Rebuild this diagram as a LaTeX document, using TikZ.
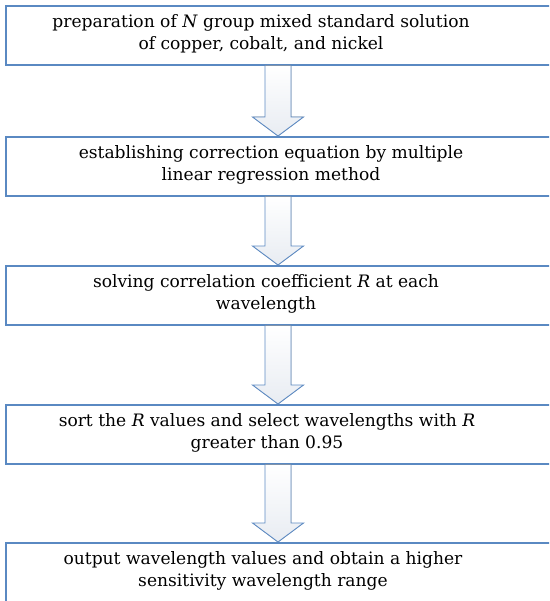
\documentclass[tikz,border=0pt]{standalone}
\usepackage{fontspec}
\setmainfont{DejaVu Serif}
\usetikzlibrary{shadings}
\definecolor{boxblue}{HTML}{5A89C2}
\definecolor{arrowblue}{HTML}{5F8CC4}
\definecolor{arrowfill}{HTML}{E8ECF2}
\tikzset{
  stepbox/.style={draw=boxblue, line width=1.6pt, fill=white, minimum width=560pt, minimum height=59pt, anchor=north west, inner sep=0pt},
  steptext/.style={align=center, font=\fontsize{17.1}{22}\selectfont, inner sep=0pt},
  flowarrow/.style={draw=arrowblue, line width=0.9pt, top color=white, bottom color=arrowfill, line join=miter}
}
\begin{document}
\begin{tikzpicture}[x=1pt,y=1pt]
\useasboundingbox (0,0) rectangle (549,-601);
\clip (0,0) rectangle (549,-601);
\fill[white] (0,0) rectangle (549,-601);
% boxes
\node[stepbox] (b1) at (5,-5) {};
\node[stepbox] (b2) at (5,-136) {};
\node[stepbox] (b3) at (5,-265) {};
\node[stepbox] (b4) at (5,-404) {};
\node[stepbox] (b5) at (5,-542) {};
% texts
\node[steptext] (t1) at (261,-34) {preparation of \textit{N} group mixed standard solution\\of copper, cobalt, and nickel};
\node[steptext] (t2) at (271,-165) {establishing correction equation by multiple\\linear regression method};
\node[steptext] (t3) at (266,-294) {solving correlation coefficient \textit{R} at each\\wavelength};
\node[steptext] (t4) at (267,-433) {sort the \textit{R} values and select wavelengths with \textit{R}\\greater than 0.95};
\node[steptext] (t5) at (263,-571) {output wavelength values and obtain a higher\\sensitivity wavelength range};
% arrows
\foreach \a/\b in {b1/b2, b2/b3, b3/b4, b4/b5}{
  \coordinate (s-\a) at (278,0 |- \a.south);
  \coordinate (e-\a) at (278,0 |- \b.north);
  \filldraw[flowarrow] ([xshift=-13pt]s-\a) -- ([shift={(-13pt,19pt)}]e-\a) -- ([shift={(-25.5pt,19pt)}]e-\a) -- (e-\a) -- ([shift={(25.5pt,19pt)}]e-\a) -- ([shift={(13pt,19pt)}]e-\a) -- ([xshift=13pt]s-\a);
}
\end{tikzpicture}
\end{document}
